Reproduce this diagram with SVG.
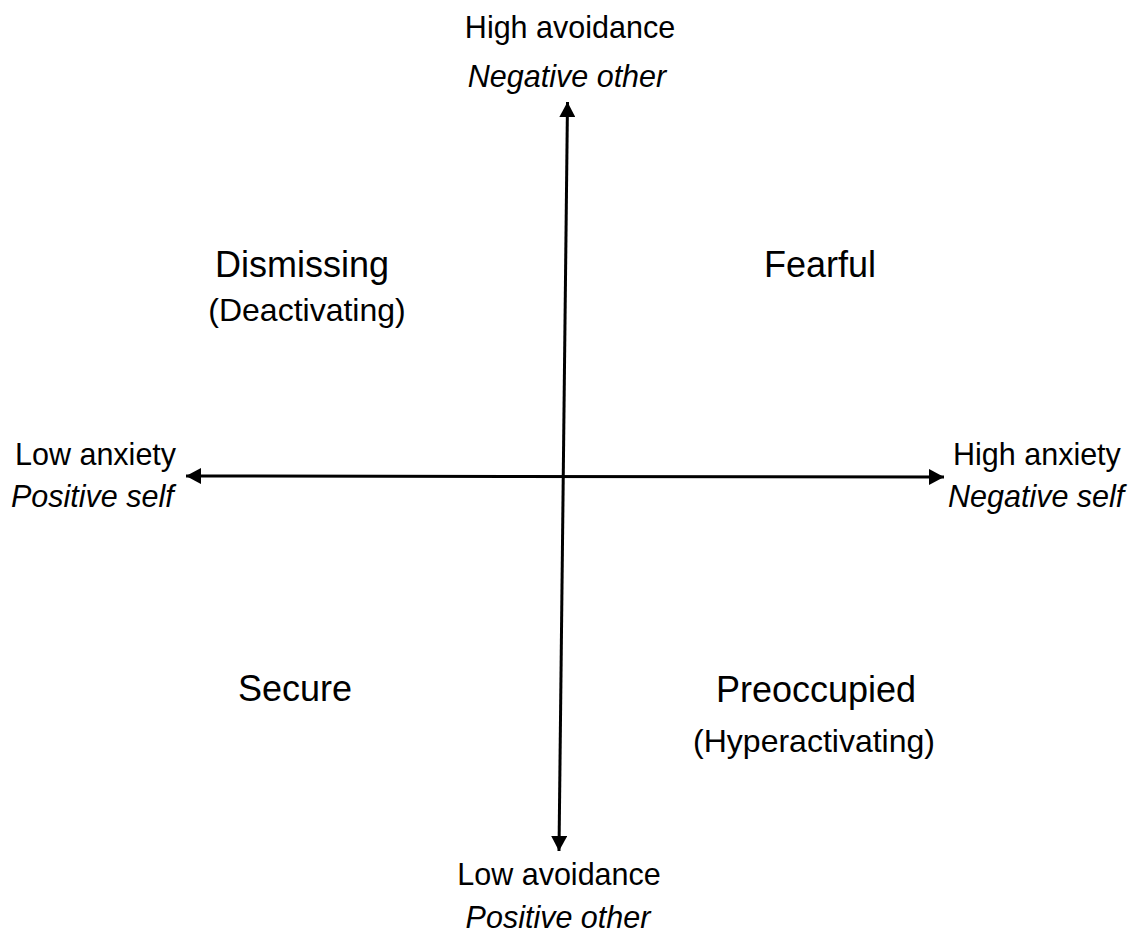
<svg xmlns="http://www.w3.org/2000/svg" width="1139" height="945" viewBox="0 0 1139 945">
<style>
text{font-family:"Liberation Sans",Arial,sans-serif;fill:#000}
.ax{font-size:30.5px}
.it{font-style:italic}
.main{font-size:36px}
.sub{font-size:32px}
.c{text-anchor:middle}
.line{stroke:#000;stroke-width:3;fill:none}
</style>
<defs>
<marker id="ah" viewBox="0 0 15 16" refX="15" refY="8" markerWidth="15" markerHeight="16" markerUnits="userSpaceOnUse" orient="auto-start-reverse">
<path d="M0,0 L15,8 L0,16 Z" fill="#000"/>
</marker>
</defs>
<rect width="1139" height="945" fill="#fff"/>
<g id="connectors">
<path class="line" d="M567.5,102 L559,851" marker-start="url(#ah)" marker-end="url(#ah)"/>
<path class="line" d="M186,476 L944,477" marker-start="url(#ah)" marker-end="url(#ah)"/>
</g>
<g id="top-label">
<text class="ax c" x="570" y="38">High avoidance</text>
<text class="ax c it" x="567" y="87">Negative other</text>
</g>
<g id="bottom-label">
<text class="ax c" x="559" y="885">Low avoidance</text>
<text class="ax c it" x="558" y="928">Positive other</text>
</g>
<g id="left-label">
<text class="ax" x="15" y="465">Low anxiety</text>
<text class="ax it" x="11" y="507">Positive self</text>
</g>
<g id="right-label">
<text class="ax" x="953" y="465">High anxiety</text>
<text class="ax it" x="948" y="507">Negative self</text>
</g>
<g id="dismissing">
<text class="main c" x="302" y="277">Dismissing</text>
<text class="sub c" x="307" y="321">(Deactivating)</text>
</g>
<g id="fearful">
<text class="main c" x="820" y="277">Fearful</text>
</g>
<g id="secure">
<text class="main c" x="295" y="701">Secure</text>
</g>
<g id="preoccupied">
<text class="main c" x="816" y="702">Preoccupied</text>
<text class="sub c" x="814" y="752">(Hyperactivating)</text>
</g>
</svg>
